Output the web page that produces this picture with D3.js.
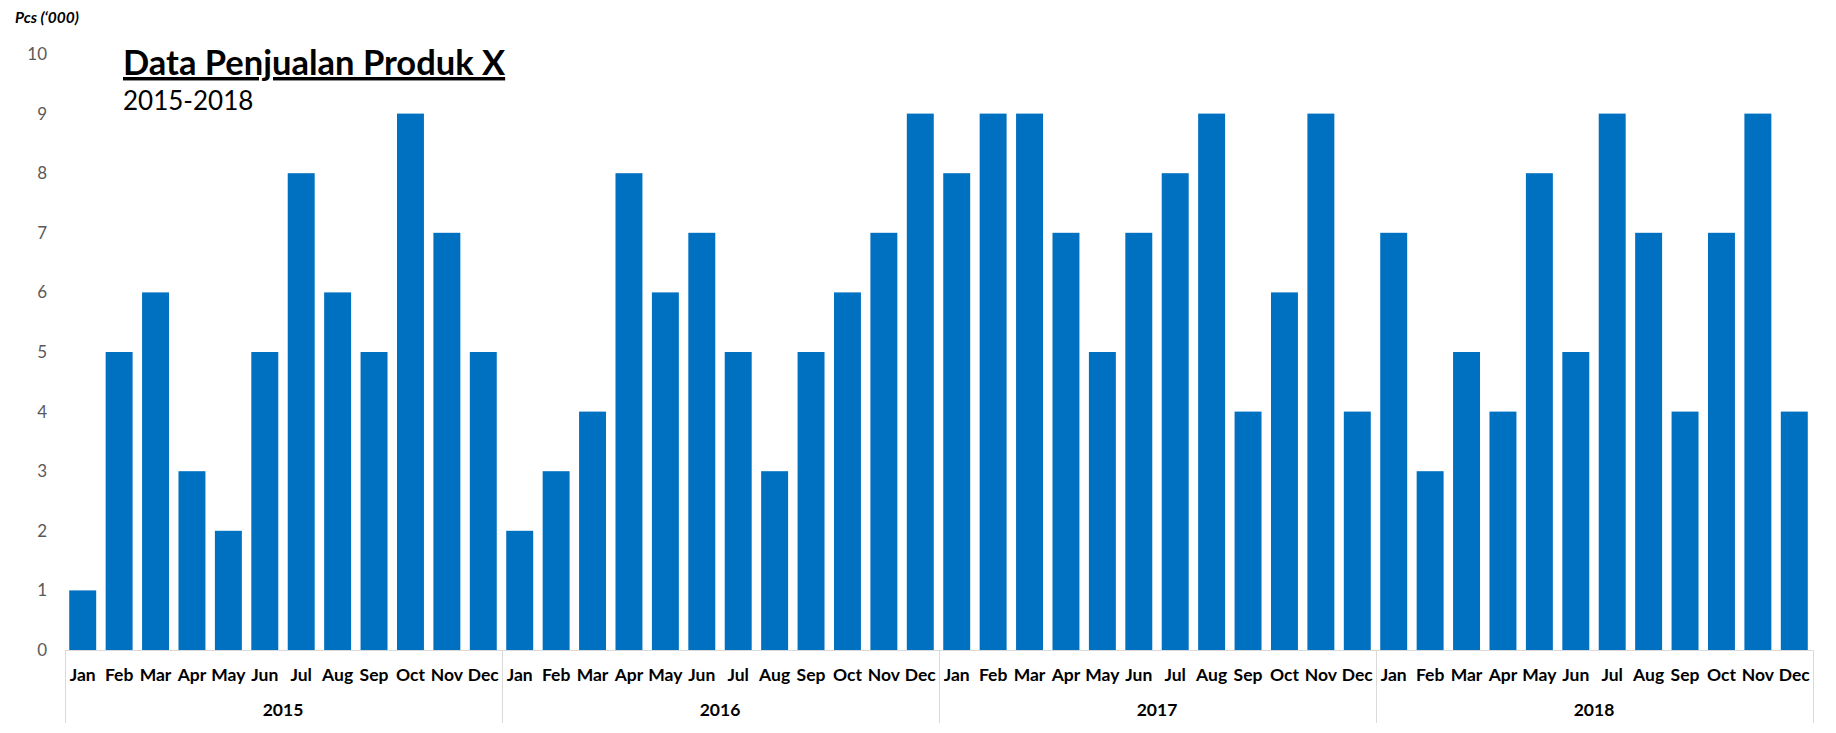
<!DOCTYPE html>
<html>
<head>
<meta charset="utf-8">
<script src="https://cdn.jsdelivr.net/npm/d3@7"></script>
<style>
  body { margin: 0; background: #fff; }
  svg { display: block; font-family: Lato, "Open Sans", sans-serif; }
</style>
</head>
<body>
<div id="chart-container"></div>
<script>
var years = ["2015", "2016", "2017", "2018"];
var months = ["Jan", "Feb", "Mar", "Apr", "May", "Jun", "Jul", "Aug", "Sep", "Oct", "Nov", "Dec"];
var sales2015 = [1, 5, 6, 3, 2, 5, 8, 6, 5, 9, 7, 5];
var sales2016 = [2, 3, 4, 8, 6, 7, 5, 3, 5, 6, 7, 9];
var sales2017 = [8, 9, 9, 7, 5, 7, 8, 9, 4, 6, 9, 4];
var sales2018 = [7, 3, 5, 4, 8, 5, 9, 7, 4, 7, 9, 4];
var yTicks = [0, 1, 2, 3, 4, 5, 6, 7, 8, 9, 10];

var fullWidth = 1836, fullHeight = 733;
var plotLeft = 64.5, plotRight = 1812.5, plotTop = 54, plotBottom = 650;

// flatten into one list of months
var series = [sales2015, sales2016, sales2017, sales2018];
var data = [];
years.forEach(function (yr, i) {
    months.forEach(function (m, j) {
        data.push({ key: yr + "-" + m, year: yr, month: m, value: series[i][j] });
    });
});

var svg = d3.select("#chart-container")
    .append("svg")
    .attr("width", fullWidth)
    .attr("height", fullHeight);

var x = d3.scaleBand()
    .domain(data.map(function (d) { return d.key; }))
    .range([plotLeft, plotRight])
    .paddingInner(0.26)
    .paddingOuter(0.13);

var xYear = d3.scaleBand()
    .domain(years)
    .range([plotLeft, plotRight]);

var y = d3.scaleLinear()
    .domain([0, 10])
    .range([plotBottom, plotTop]);

// y axis labels only, no line
var yAxis = d3.axisLeft(y).tickValues(yTicks).tickSize(0).tickPadding(0);
svg.append("g")
    .attr("class", "y-axis")
    .attr("transform", "translate(47,0)")
    .call(yAxis)
    .call(function (g) { g.select(".domain").remove(); })
    .selectAll("text")
    .style("font-size", "17px")
    .style("font-family", "Lato, sans-serif")
    .attr("fill", "#595959");

// bars
svg.append("g")
    .selectAll("rect")
    .data(data)
    .enter()
    .append("rect")
    .attr("x", function (d) { return x(d.key); })
    .attr("y", function (d) { return y(d.value); })
    .attr("width", x.bandwidth())
    .attr("height", function (d) { return y(0) - y(d.value); })
    .attr("fill", "#0070c0");

// month labels
var xAxis = d3.axisBottom(x)
    .tickSize(0)
    .tickPadding(0)
    .tickFormat(function (k) { return k.split("-")[1]; });
svg.append("g")
    .attr("class", "x-axis")
    .attr("transform", "translate(0," + 681 + ")")
    .call(xAxis)
    .call(function (g) { g.select(".domain").remove(); })
    .selectAll("text")
    .attr("dy", 0)
    .style("font-size", "17.5px")
    .style("font-weight", "bold")
    .style("font-family", "Lato, sans-serif")
    .attr("fill", "#000");

// year labels
var yearAxis = d3.axisBottom(xYear).tickSize(0).tickPadding(0);
svg.append("g")
    .attr("class", "year-axis")
    .attr("transform", "translate(0," + 716 + ")")
    .call(yearAxis)
    .call(function (g) { g.select(".domain").remove(); })
    .selectAll("text")
    .attr("dy", 0)
    .style("font-size", "17.5px")
    .style("font-weight", "bold")
    .style("font-family", "Lato, sans-serif")
    .attr("fill", "#000");

// baseline and year separators
svg.append("line")
    .attr("x1", plotLeft).attr("x2", plotRight)
    .attr("y1", y(0) + 0.5).attr("y2", y(0) + 0.5)
    .attr("stroke", "#d9d9d9")
    .attr("stroke-width", 1);

var edges = years.map(function (yr) { return xYear(yr); }).concat([plotRight]);
svg.append("g")
    .selectAll("line")
    .data(edges)
    .enter()
    .append("line")
    .attr("x1", function (d) { return Math.round(d) + 0.5; })
    .attr("x2", function (d) { return Math.round(d) + 0.5; })
    .attr("y1", y(0))
    .attr("y2", 723)
    .attr("stroke", "#d9d9d9")
    .attr("stroke-width", 1);

// unit label
svg.append("text")
    .attr("x", 15)
    .attr("y", 23)
    .style("font-size", "15.5px")
    .style("font-weight", "bold")
    .style("font-style", "italic")
    .text("Pcs (\u2018000)");

// title
svg.append("text")
    .attr("x", 123)
    .attr("y", 75)
    .style("font-size", "34.5px")
    .style("font-weight", "bold")
    .style("text-decoration", "underline")
    .text("Data Penjualan Produk X");

svg.append("text")
    .attr("x", 123)
    .attr("y", 110)
    .style("font-size", "26px")
    .text("2015-2018");
</script>
</body>
</html>
